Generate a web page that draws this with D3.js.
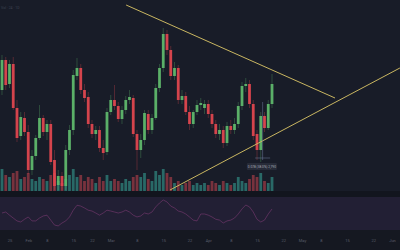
<!DOCTYPE html>
<html>
    <head>
        <meta charset="utf-8">
        <title>Triangle</title>
        <script src="https://d3js.org/d3.v7.min.js"></script>
        <style>
            body { margin: 0; background: #181c28; }
        </style>
    </head>
    <body>
        <div id="my_dataviz"></div>

        <script>

            // daily candles (price), oldest first
            var opens  = [.305,.335,.311,.331,.287,.259,.277,.263,.225,.239, .257,.277,.263,.271,.235,.210,.219,.209,.245,.265,
                          .319,.327,.305,.298,.271,.261,.265,.247,.243,.283, .295,.289,.276,.285,.295,.297,.261,.245,.255,.281,
                          .265,.277,.307,.327,.361,.345,.319,.327,.295,.299, .283,.271,.283,.290,.287,.291,.281,.271,.261,.265,
                          .252,.269,.265,.271,.289,.309,.311,.291,.261,.245, .279,.267,.291];
            var closes = [.335,.310,.331,.287,.257,.278,.263,.225,.239,.257, .277,.263,.271,.233,.209,.219,.209,.245,.265,.320,
                          .327,.305,.297,.271,.261,.265,.247,.242,.283,.295, .289,.276,.285,.295,.298,.261,.245,.255,.282,.265,
                          .277,.307,.327,.361,.345,.319,.327,.295,.299,.283, .271,.283,.290,.292,.291,.281,.271,.261,.265,.252,
                          .269,.265,.271,.289,.309,.311,.291,.259,.245,.279, .267,.291,.311];
            var highs  = [.340,.338,.335,.338,.295,.283,.283,.270,.245,.260, .290,.280,.275,.275,.245,.225,.223,.250,.270,.325,
                          .337,.331,.311,.303,.275,.269,.269,.255,.287,.300, .310,.293,.289,.299,.305,.300,.265,.261,.285,.285,
                          .281,.311,.331,.367,.365,.349,.333,.330,.305,.303, .289,.285,.295,.297,.295,.295,.285,.275,.271,.269,
                          .273,.275,.277,.293,.313,.317,.315,.295,.265,.283, .283,.295,.321];
            var lows   = [.300,.305,.307,.285,.253,.255,.259,.221,.220,.235, .255,.259,.255,.230,.205,.205,.205,.205,.240,.260,
                          .315,.301,.293,.267,.257,.255,.243,.235,.240,.280, .285,.273,.271,.281,.291,.258,.225,.237,.250,.261,
                          .261,.275,.303,.323,.340,.315,.315,.291,.291,.280, .265,.267,.280,.285,.281,.277,.267,.257,.255,.247,
                          .249,.261,.261,.267,.285,.303,.287,.255,.235,.233, .263,.265,.287];
            var volumes = [22,16,14,18,20,12,14,18,12,10, 14,12,10,16,18,10,8,12,16,22,
                           14,16,10,14,12,8,14,10,16,10, 12,10,8,12,10,14,16,14,18,12,
                           10,20,16,22,18,14,8,10,6,8, 10,6,8,6,8,6,10,8,6,10,
                           8,6,8,14,10,8,12,16,14,18, 10,8,14];
            var rsi = [50.6,51.8,48,44.5,41,39.7,43,45.8,41,41, 44.5,47,48,42,36,35,38.5,41,45.8,54,
                       60,59,56.7,54,53,50.6,48,50.6,54,53, 51.8,50.6,51.8,54,51.8,48,45.8,47,50.6,49.4,
                       51.8,58,62.7,66.4,64,59,56.7,53,51.8,49.4, 45.8,42,41,49.4,49.4,48,45.8,43,42,38.5,
                       41,42,44.5,49.4,55.5,60.3,58,51.8,43,39.7, 42,49.4,55.5];

            // triangle trend lines: [candle index, price]
            var upperLine = [[33.1, .390], [88.8, .297]];
            var lowerLine = [[44.8, .205], [106.1, .327]];

            // date axis
            var tickIdx = [2, 7, 12, 19, 24, 29, 36, 43, 50, 55, 61, 68, 75, 80, 85, 92, 99, 104];
            var tickLabels = ["25", "Feb", "8", "15", "22", "Mar", "8", "15", "22", "Apr", "8", "15", "22", "May", "8", "15", "22", "Jun"];

            var W = 400, H = 250;
            var green = "#5fba6c", red = "#e2464f";

            var svg = d3.select("#my_dataviz")
              .append("svg")
                .attr("width", W)
                .attr("height", H);

            // pane backgrounds
            svg.append("rect").attr("width", W).attr("height", 191).attr("fill", "#181c28");
            svg.append("rect").attr("y", 191).attr("width", W).attr("height", 6).attr("fill", "#12151e");
            svg.append("rect").attr("y", 197).attr("width", W).attr("height", 33).attr("fill", "#221f34");
            svg.append("rect").attr("y", 230).attr("width", W).attr("height", 20).attr("fill", "#151821");

            var x = d3.scaleLinear().domain([-0.53, 106.13]).range([0, W]);
            var y = d3.scaleLinear().domain([0.200, 0.395]).range([195, 0]);
            var v = d3.scaleLinear().domain([0, 30]).range([191, 161]);
            var r = d3.scaleLinear().domain([30, 70]).range([230, 197]);

            var idx = d3.range(closes.length);
            var bw = 2.8;

            // volume
            svg.append("g")
              .selectAll("rect")
              .data(idx)
              .enter()
              .append("rect")
                .attr("x", function (i) { return x(i) - bw / 2; })
                .attr("y", function (i) { return v(volumes[i]); })
                .attr("width", bw)
                .attr("height", function (i) { return v(0) - v(volumes[i]); })
                .attr("fill", function (i) { return closes[i] >= opens[i] ? "#2d7772" : "#8a3641"; })
                .attr("opacity", 0.85);

            // candles
            var c = svg.append("g")
              .selectAll("g")
              .data(idx)
              .enter()
              .append("g");

            c.append("line")
                .attr("x1", function (i) { return x(i); })
                .attr("x2", function (i) { return x(i); })
                .attr("y1", function (i) { return y(highs[i]); })
                .attr("y2", function (i) { return y(lows[i]); })
                .attr("stroke", function (i) { return closes[i] >= opens[i] ? green : red; })
                .attr("stroke-width", 0.6)
                .attr("opacity", 0.5);

            c.append("rect")
                .attr("x", function (i) { return x(i) - bw / 2; })
                .attr("y", function (i) { return y(Math.max(opens[i], closes[i])); })
                .attr("width", bw)
                .attr("height", function (i) { return Math.max(1, Math.abs(y(opens[i]) - y(closes[i]))); })
                .attr("fill", function (i) { return closes[i] >= opens[i] ? green : red; })
                .attr("opacity", 0.92);

            // triangle
            var line = d3.line()
              .x(function (d) { return x(d[0]); })
              .y(function (d) { return y(d[1]); });

            [upperLine, lowerLine].forEach(function (l) {
              svg.append("path")
                .attr("d", line(l))
                .attr("fill", "none")
                .attr("stroke", "#c9b661")
                .attr("stroke-width", 1);
            });

            // price range measure on the last candles
            var mx = x(69.5);
            svg.append("line")
              .attr("x1", mx).attr("x2", mx)
              .attr("y1", y(highs[72]) + 28).attr("y2", y(lows[69]) - 2)
              .attr("stroke", "#6f7c9e").attr("stroke-width", 0.5);
            svg.append("line")
              .attr("x1", x(67.5)).attr("x2", x(71.5))
              .attr("y1", y(lows[69]) - 4).attr("y2", y(lows[69]) - 4)
              .attr("stroke", "#6f7c9e").attr("stroke-width", 0.5);
            svg.append("rect")
              .attr("x", x(65.3)).attr("y", 163).attr("width", 30).attr("height", 7)
              .attr("fill", "#272b38").attr("rx", 1);
            svg.append("text")
              .attr("x", x(65.3) + 15).attr("y", 167.8)
              .attr("text-anchor", "middle")
              .attr("font-family", "Roboto, sans-serif")
              .attr("font-size", 3.2)
              .attr("fill", "#a9adb9")
              .text("0.078 (38.0%) 2,790");

            // RSI
            svg.append("path")
              .attr("d", d3.line()
                .x(function (i) { return x(i); })
                .y(function (i) { return r(rsi[i]); })(idx))
              .attr("fill", "none")
              .attr("stroke", "#8d3f7e")
              .attr("stroke-width", 0.7)
              .attr("opacity", 0.7);

            // faint legend
            svg.append("text")
              .attr("x", 1).attr("y", 9)
              .attr("font-family", "Roboto, sans-serif")
              .attr("font-size", 3.5)
              .attr("fill", "#3e4352")
              .text("Vol · 24 · 1D");

            // date labels
            var xAxis = d3.axisBottom(x)
              .tickValues(tickIdx)
              .tickFormat(function (d, k) { return tickLabels[k]; })
              .tickSize(0);
            svg.append("g")
              .attr("transform", "translate(0,236)")
              .call(xAxis)
              .call(function (g) { g.select(".domain").remove(); })
              .selectAll("text")
                .attr("font-family", "Roboto, sans-serif")
                .attr("font-size", 4)
                .attr("fill", "#5a5e6b");

        </script>
    </body>
</html>
